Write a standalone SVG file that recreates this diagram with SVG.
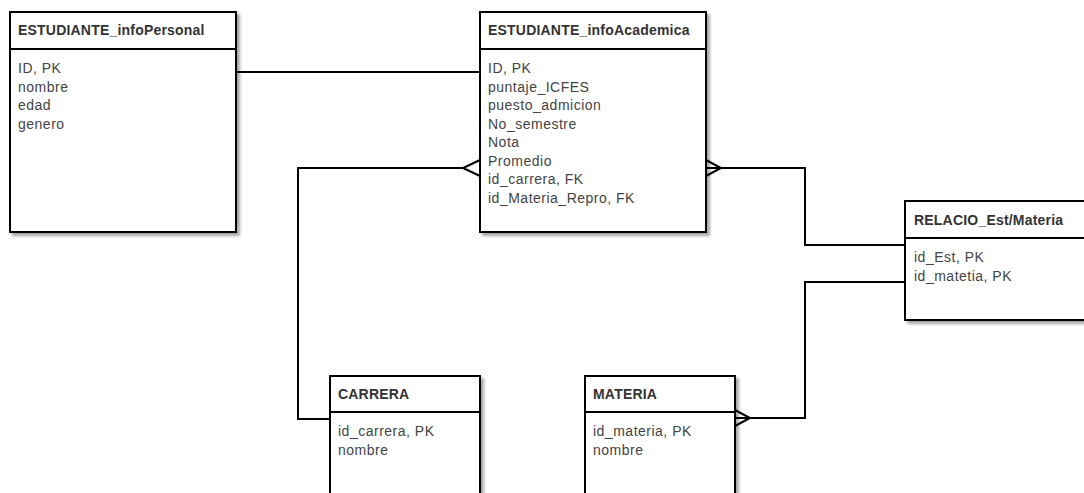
<svg xmlns="http://www.w3.org/2000/svg" width="1084" height="493" viewBox="0 0 1084 493">
<defs>
<filter id="sh" x="-10%" y="-10%" width="130%" height="130%">
<feGaussianBlur in="SourceAlpha" stdDeviation="1.6"/>
<feOffset dx="3" dy="3" result="b"/>
<feComponentTransfer><feFuncA type="linear" slope="0.35"/></feComponentTransfer>
<feMerge><feMergeNode/><feMergeNode in="SourceGraphic"/></feMerge>
</filter>
<style>
.box{fill:#fff;stroke:#000;stroke-width:2}
.div{stroke:#000;stroke-width:2;fill:none}
.title{font-family:"Liberation Sans",Arial,sans-serif;font-size:14px;font-weight:bold;fill:#333;letter-spacing:0.2px}
.attr{font-family:"Liberation Sans",Arial,sans-serif;font-size:14px;fill:#444;letter-spacing:0.5px}
.conn{stroke:#000;stroke-width:2;fill:none}
</style>
</defs>
<rect width="1084" height="493" fill="#fff"/>
<g id="connectors">
<path class="conn" d="M236,72 H480"/>
<path class="conn" d="M330,419 H298 V168 H463"/>
<path class="conn" d="M480,160 L463,168 L480,176"/>
<path class="conn" d="M706,160 L721,168 L706,176 M706,168 H805 V245 H905"/>
<path class="conn" d="M905,282 H805 V418 H735"/>
<path class="conn" d="M735,410 L750,418 L735,426"/>
</g>
<g id="infoPersonal">
<rect class="box" x="10" y="12" width="226" height="220" filter="url(#sh)"/>
<line class="div" x1="10" y1="49" x2="236" y2="49"/>
<text class="title" x="18" y="35">ESTUDIANTE_infoPersonal</text>
<text class="attr" x="18" y="73">ID, PK</text>
<text class="attr" x="18" y="91.5">nombre</text>
<text class="attr" x="18" y="110">edad</text>
<text class="attr" x="18" y="128.5">genero</text>
</g>
<g id="infoAcademica">
<rect class="box" x="480" y="12" width="226" height="220" filter="url(#sh)"/>
<line class="div" x1="480" y1="49" x2="706" y2="49"/>
<text class="title" x="488" y="35">ESTUDIANTE_infoAcademica</text>
<text class="attr" x="488" y="73">ID, PK</text>
<text class="attr" x="488" y="91.5">puntaje_ICFES</text>
<text class="attr" x="488" y="110">puesto_admicion</text>
<text class="attr" x="488" y="128.5">No_semestre</text>
<text class="attr" x="488" y="147">Nota</text>
<text class="attr" x="488" y="165.5">Promedio</text>
<text class="attr" x="488" y="184">id_carrera, FK</text>
<text class="attr" x="488" y="202.5">id_Materia_Repro, FK</text>
</g>
<g id="relacion">
<rect class="box" x="905" y="201" width="226" height="119" filter="url(#sh)"/>
<line class="div" x1="905" y1="238" x2="1131" y2="238"/>
<text class="title" x="914" y="225">RELACIO_Est/Materia</text>
<text class="attr" x="914" y="262">id_Est, PK</text>
<text class="attr" x="914" y="280.5">id_matetia, PK</text>
</g>
<g id="carrera">
<rect class="box" x="330" y="376" width="150" height="140" filter="url(#sh)"/>
<line class="div" x1="330" y1="412" x2="480" y2="412"/>
<text class="title" x="338" y="399">CARRERA</text>
<text class="attr" x="338" y="436">id_carrera, PK</text>
<text class="attr" x="338" y="454.5">nombre</text>
</g>
<g id="materia">
<rect class="box" x="585" y="376" width="150" height="140" filter="url(#sh)"/>
<line class="div" x1="585" y1="412" x2="735" y2="412"/>
<text class="title" x="593" y="399">MATERIA</text>
<text class="attr" x="593" y="436">id_materia, PK</text>
<text class="attr" x="593" y="454.5">nombre</text>
</g>
</svg>
